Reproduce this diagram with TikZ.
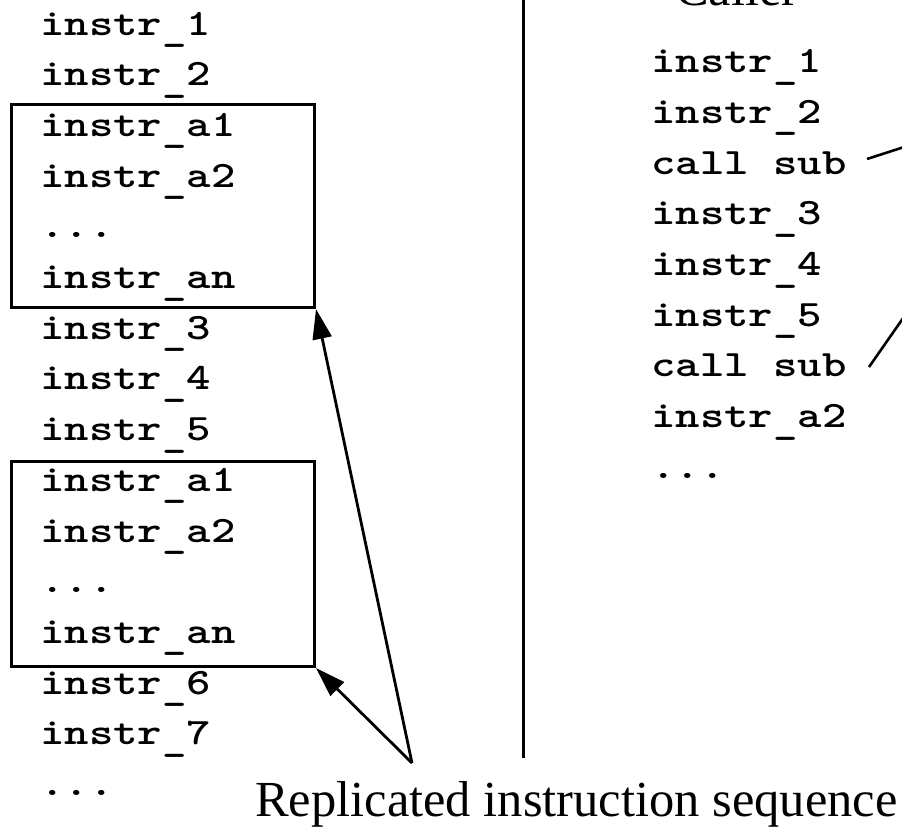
\documentclass[tikz,border=0pt]{standalone}
\usepackage{fontspec}
\usepackage{graphicx}
\setmainfont{Liberation Serif}
% bold typewriter face, widened to a Courier-like pitch
\newfontfamily\codefont{lmmonolt10-bold}[Extension=.otf, FakeStretch=1.25]
\usetikzlibrary{arrows.meta}
\newcommand\skipline{...}
% underscore set a little below the baseline, as in Courier
\newcommand\us{\raisebox{-6.5pt}{\_}}
\tikzset{
  code/.style={anchor=base west, inner sep=0pt,
    font=\codefont\fontsize{37.2}{37.2}\selectfont},
  caption/.style={anchor=base west, inner sep=0pt,
    font=\fontsize{50.5}{50.5}\selectfont},
  frame/.style={draw, line width=3pt},
  rule/.style={line width=3pt},
  link/.style={line width=2.6pt},
  pointer/.style={line width=2.8pt, -{Triangle[length=30pt,width=19pt]}},
}
\begin{document}
\begin{tikzpicture}[x=1pt, y=-1pt]
  \useasboundingbox (0,0) rectangle (902,828);
  \clip (0,0) rectangle (902,828);

  % inlined program (left column)
  \foreach \t [count=\k from 0] in {instr\us1, instr\us2, instr\us a1, instr\us a2, \skipline, instr\us an,
      instr\us3, instr\us4, instr\us5, instr\us a1, instr\us a2, \skipline, instr\us an,
      instr\us6, instr\us7, \skipline}
    \node[code] (L\k) at (40, 35+50.7*\k) {\t};

  % replicated blocks
  \node[frame, inner sep=0pt, minimum width=303pt, minimum height=203pt, anchor=north west] (blockA) at (10,103) {};
  \node[frame, inner sep=0pt, minimum width=303pt, minimum height=205pt, anchor=north west] (blockB) at (10,460) {};

  % separator
  \draw[rule] (523,-5) -- (523,758);

  % calling program (right column)
  \node[caption, anchor=base] (caller) at (737,5) {Caller};
  \foreach \t [count=\k from 0] in {instr\us1, instr\us2, call sub, instr\us3, instr\us4,
      instr\us5, call sub, instr\us a2, \skipline}
    \node[code] (R\k) at (651, 72.7+50.7*\k) {\t};

  % links toward the subroutine
  \coordinate (subA) at (966,127);
  \coordinate (subB) at (929,281);
  \draw[link] (867,159) -- (subA);
  \draw[link] (869,367) -- (subB);

  % caption and its pointers
  \node[caption] (label) at (255,816) {Replicated instruction sequence};
  \coordinate (meet) at (412,763);
  \draw[pointer] (meet) -- (blockA.south east);
  \draw[pointer] (meet) -- (blockB.south east);
\end{tikzpicture}
\end{document}
